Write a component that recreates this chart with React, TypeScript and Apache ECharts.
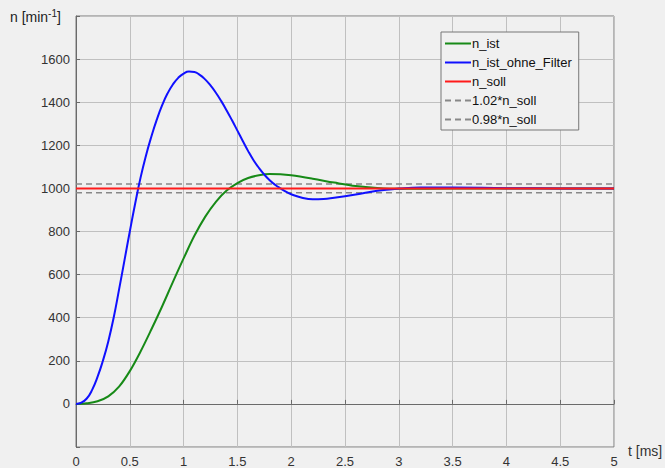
import React, { useEffect, useRef } from "react";
import * as echarts from "echarts";

const tIst = [0, 0.1, 0.2, 0.3, 0.4, 0.5, 0.6, 0.7, 0.8, 0.9, 1.0, 1.1, 1.2, 1.3, 1.4, 1.5, 1.6, 1.7, 1.8, 1.9, 2.0, 2.2, 2.4, 2.6, 2.8, 3.0, 3.5, 4, 4.5, 5];
const nIst = [0, 3, 12, 35, 80, 152, 243, 345, 452, 565, 675, 780, 868, 938, 990, 1025, 1048, 1061, 1067, 1066, 1061, 1045, 1027, 1011, 1002, 998, 999, 1000, 1000, 1000];

const tOhne = [0, 0.05, 0.1, 0.15, 0.2, 0.25, 0.3, 0.35, 0.4, 0.45, 0.5, 0.55, 0.6, 0.65, 0.7, 0.75, 0.8, 0.85, 0.9, 0.95, 1.0, 1.05, 1.1, 1.15, 1.2, 1.25, 1.3, 1.35, 1.4, 1.45, 1.5, 1.55, 1.6, 1.65, 1.7, 1.75, 1.8, 1.85, 1.9, 1.95, 2.0, 2.1, 2.2, 2.3, 2.4, 2.6, 2.8, 3.0, 3.2, 3.5, 4, 4.5, 5];
const nOhne = [0, 6, 25, 65, 125, 200, 290, 400, 530, 665, 800, 930, 1050, 1152, 1240, 1318, 1385, 1440, 1482, 1513, 1533, 1542, 1540, 1527, 1506, 1478, 1444, 1405, 1362, 1316, 1268, 1220, 1173, 1131, 1095, 1064, 1038, 1017, 1000, 985, 973, 957, 950, 951, 957, 972, 989, 999, 1004, 1004, 1001, 1000, 1000];

const tRange = [0, 5];
const nSoll = 1000;
const factorHigh = 1.02;
const factorLow = 0.98;

const seriesNames = ["n_ist", "n_ist_ohne_Filter", "n_soll", "1.02*n_soll", "0.98*n_soll"];
const xTitle = "t [ms]";

const pairs = (t: number[], v: number[]) => t.map((x, i) => [x, v[i]]);

export default function App() {
  const ref = useRef<HTMLDivElement>(null);
  useEffect(() => {
    if (!ref.current) return;
    const chart = echarts.init(ref.current, undefined, { renderer: "svg" });
    const font = "Arial, 'Liberation Sans', Helvetica, sans-serif";
    chart.setOption({
      animation: false,
      backgroundColor: "#f0f0f0",
      textStyle: { fontFamily: font },
      grid: { left: 76, right: 51, top: 16, bottom: 19, show: true, borderColor: "#7a7a7a", borderWidth: 1, backgroundColor: "#f0f0f0" },
      legend: {
        orient: "vertical",
        left: 441,
        top: 32,
        padding: [5, 7, 4, 3],
        itemGap: 6,
        itemWidth: 26,
        itemHeight: 13,
        borderColor: "#777",
        borderWidth: 1,
        backgroundColor: "#f0f0f0",
        itemStyle: { opacity: 0 },
        textStyle: { fontSize: 13, color: "#111", fontFamily: font, padding: [0, 0, 0, -4] },
        data: seriesNames,
      },
      xAxis: {
        type: "value",
        min: 0,
        max: 5,
        interval: 0.5,
        axisLine: { lineStyle: { color: "#6a6a6a", width: 1 } },
        axisTick: { show: true, inside: true, length: 4, lineStyle: { color: "#6a6a6a" } },
        axisLabel: { color: "#333", fontSize: 13, margin: 8 },
        splitLine: { show: true, lineStyle: { color: "#c0c0c0", width: 1 } },
      },
      yAxis: {
        type: "value",
        min: -200,
        max: 1800,
        interval: 200,
        axisLine: { show: true, lineStyle: { color: "#6a6a6a", width: 1 } },
        axisTick: { show: true, inside: true, length: 4, lineStyle: { color: "#6a6a6a" } },
        axisLabel: {
          color: "#333",
          fontSize: 13,
          margin: 6,
          formatter: (v: number) => (v < 0 || v > 1600 ? "" : String(v)),
        },
        splitLine: { show: true, lineStyle: { color: "#c0c0c0", width: 1 } },
      },
      graphic: [
        {
          type: "text",
          left: 10,
          top: 8,
          style: {
            text: "n [min{sup|-1}]",
            fontSize: 14,
            fontFamily: font,
            fill: "#222",
            rich: { sup: { fontSize: 10, verticalAlign: "top", padding: [0, 0, 8, 0], fill: "#222" } },
          },
        },
        {
          type: "text",
          left: 628,
          top: 444,
          style: { text: xTitle, fontSize: 14, fontFamily: font, fill: "#333" },
        },
      ],
      series: [
        {
          name: seriesNames[0],
          type: "line",
          data: pairs(tIst, nIst),
          smooth: 0.35,
          showSymbol: false,
          symbol: "none",
          lineStyle: { color: "#178a17", width: 2 },
          itemStyle: { color: "#178a17" },
          z: 2,
        },
        {
          name: seriesNames[1],
          type: "line",
          data: pairs(tOhne, nOhne),
          smooth: 0.5,
          showSymbol: false,
          symbol: "none",
          lineStyle: { color: "#1010ff", width: 2 },
          itemStyle: { color: "#1010ff" },
          z: 3,
        },
        {
          name: seriesNames[2],
          type: "line",
          data: tRange.map((t) => [t, nSoll]),
          showSymbol: false,
          symbol: "none",
          lineStyle: { color: "#ff1a1a", width: 2 },
          itemStyle: { color: "#ff1a1a" },
          z: 4,
        },
        {
          name: seriesNames[3],
          type: "line",
          data: tRange.map((t) => [t, nSoll * factorHigh]),
          showSymbol: false,
          symbol: "none",
          lineStyle: { color: "#888", width: 1.5, type: [6, 4] },
          itemStyle: { color: "#888" },
          z: 1,
        },
        {
          name: seriesNames[4],
          type: "line",
          data: tRange.map((t) => [t, nSoll * factorLow]),
          showSymbol: false,
          symbol: "none",
          lineStyle: { color: "#888", width: 1.5, type: [6, 4] },
          itemStyle: { color: "#888" },
          z: 1,
        },
      ],
    });
    return () => chart.dispose();
  }, []);
  return (
    <div
      ref={ref}
      style={{ position: "fixed", left: 0, top: 0, width: 665, height: 468, background: "#f0f0f0" }}
    />
  );
}
